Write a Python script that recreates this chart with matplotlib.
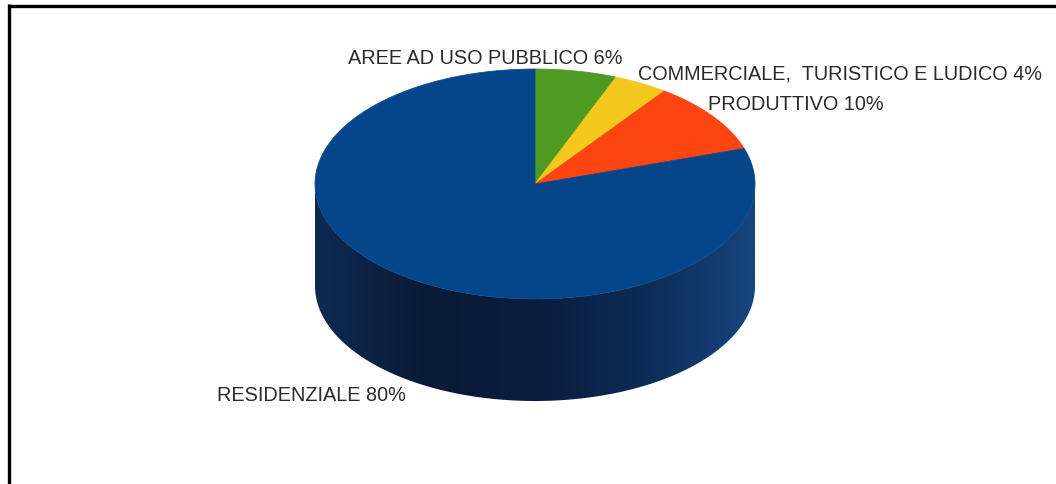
import numpy as np
import matplotlib.pyplot as plt
from matplotlib.patches import Polygon
from matplotlib.colors import LinearSegmentedColormap

# land-use shares (percent)
categories = ['AREE AD USO PUBBLICO', 'COMMERCIALE,  TURISTICO E LUDICO', 'PRODUTTIVO', 'RESIDENZIALE']
shares = [6, 4, 10, 80]
colors = ['#4e9a22', '#f4c81c', '#fd4512', '#05458a']

plt.rcParams['font.family'] = ['Liberation Sans', 'DejaVu Sans']

W, H = 1056, 485
fig = plt.figure(figsize=(W / 100, H / 100), dpi=100)
ax = fig.add_axes([0, 0, 1, 1])
ax.set_xlim(0, W)
ax.set_ylim(H, 0)
ax.axis('off')

# ellipse geometry in pixel space
cx, cy = 535, 185
a, b = 220, 115
depth = 102


def ell(t, dy=0):
    return np.column_stack([cx + a * np.cos(t), cy - b * np.sin(t) + dy])


# side wall: front half of the cylinder
t_front = np.linspace(np.pi, 2 * np.pi, 200)
side = np.vstack([ell(t_front), ell(t_front[::-1], depth)])
side_patch = Polygon(side, closed=True, facecolor='none', edgecolor='none')
ax.add_patch(side_patch)
side_cmap = LinearSegmentedColormap.from_list(
    'side', ['#0f2a52', '#091a35', '#0a1d3d', '#0d2b57', '#17467f'])
grad = np.linspace(0, 1, 256).reshape(1, -1)
im = ax.imshow(grad, cmap=side_cmap, aspect='auto',
               extent=[cx - a, cx + a, cy + b + depth, cy - 5], zorder=1)
im.set_clip_path(side_patch)

# top face wedges, clockwise from 12 o'clock
start = np.pi / 2
for share, color in zip(shares, colors):
    sweep = 2 * np.pi * share / sum(shares)
    t = np.linspace(start, start - sweep, max(int(share * 4), 10))
    pts = np.vstack([[cx, cy], ell(t)])
    ax.add_patch(Polygon(pts, closed=True, facecolor=color, edgecolor=color,
                         lw=0.5, zorder=2))
    start -= sweep

# labels
label_pos = [(348, 58, 'left'), (638, 74, 'left'), (708, 104, 'left'), (217, 396, 'left')]
for cat, share, (x, y, ha) in zip(categories, shares, label_pos):
    ax.text(x, y, f'{cat} {share}%', ha=ha, va='center', fontsize=14.3,
            color='#2a2a2a', zorder=3)

# frame lines along the top and left edges
ax.plot([7.5, W], [6.5, 6.5], color='black', lw=2.4, solid_capstyle='butt', zorder=4)
ax.plot([8.5, 8.5], [5, H], color='black', lw=2.4, solid_capstyle='butt', zorder=4)

fig.savefig('out.png', dpi=100)
